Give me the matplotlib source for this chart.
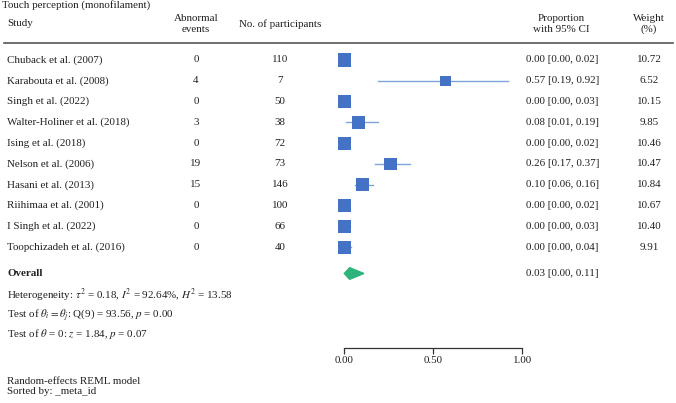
import matplotlib
matplotlib.use("Agg")
import matplotlib.pyplot as plt
from matplotlib.transforms import blended_transform_factory
from matplotlib.patches import Polygon

plt.rcParams['font.family'] = ['Liberation Serif', 'DejaVu Serif']
plt.rcParams['mathtext.fontset'] = 'stix'

studies = ["Chuback et al. (2007)", "Karabouta et al. (2008)", "Singh et al. (2022)",
           "Walter-Holiner et al. (2018)", "Ising et al. (2018)", "Nelson et al. (2006)",
           "Hasani et al. (2013)", "Riihimaa et al. (2001)", "I Singh et al. (2022)",
           "Toopchizadeh et al. (2016)"]
events = [0, 4, 0, 3, 0, 19, 15, 0, 0, 0]
participants = [110, 7, 50, 38, 72, 73, 146, 100, 66, 40]
prop = [0.00, 0.57, 0.00, 0.08, 0.00, 0.26, 0.10, 0.00, 0.00, 0.00]
ci_lo = [0.00, 0.19, 0.00, 0.01, 0.00, 0.17, 0.06, 0.00, 0.00, 0.00]
ci_hi = [0.02, 0.92, 0.03, 0.19, 0.02, 0.37, 0.16, 0.02, 0.03, 0.04]
weights = [10.72, 6.52, 10.15, 9.85, 10.46, 10.47, 10.84, 10.67, 10.40, 9.91]
overall = 0.03
overall_lo = 0.00
overall_hi = 0.11
x_ticks = [0.0, 0.5, 1.0]

W, H = 676, 403
fig = plt.figure(figsize=(W / 100, H / 100), dpi=100)

# row 0 sits at 60 px from top, rows 20.8 px apart
row0, step = 60.0, 20.8
def px2row(py):
    return (py - row0) / step

axis_px = 347.7
ax = fig.add_axes([344.3 / W, (H - axis_px) / H, 178.0 / W, axis_px / H])
ax.set_xlim(0, 1)
ax.set_ylim(px2row(axis_px), px2row(0))
for s in ['top', 'left', 'right']:
    ax.spines[s].set_visible(False)
ax.spines['bottom'].set_color('#333333')
ax.spines['bottom'].set_linewidth(0.9)
ax.set_yticks([])
ax.set_xticks(x_ticks)
ax.set_xticklabels(["%.2f" % t for t in x_ticks])

txt = '#231F20'
fs = 7.9
ax.tick_params(axis='x', length=4, width=0.9, color='#333333', labelsize=fs,
               labelcolor=txt, pad=2)
tr = blended_transform_factory(fig.transFigure, ax.transData)

def fx(px):
    return px / W

rows = list(range(len(studies)))
# CIs and squares
for i in rows:
    ax.plot([ci_lo[i], ci_hi[i]], [i, i], color='#7FA6DC', lw=1.0, clip_on=False, zorder=2)
ax.scatter(prop, rows, marker='s', s=[10 + 7.3 * w for w in weights], color='#4472C4',
           edgecolor='none', clip_on=False, zorder=3)

# overall diamond
orow = px2row(273.5)
h = 0.28
ax.add_patch(Polygon([(overall_lo, orow), (overall, orow - h), (overall_hi, orow), (overall, orow + h)],
                     closed=True, color='#2DB37C', clip_on=False, zorder=3))

# header
ax.text(fx(2), px2row(5), "Touch perception (monofilament)", transform=tr, fontsize=fs,
        color=txt, va='center', ha='left')
ax.text(fx(7), px2row(24), "Study", transform=tr, fontsize=fs, color=txt, va='center')
ax.text(fx(196), px2row(24), "Abnormal\nevents", transform=tr, fontsize=fs, color=txt,
        va='center', ha='center', linespacing=1.3)
ax.text(fx(280), px2row(24), "No. of participants", transform=tr, fontsize=fs, color=txt,
        va='center', ha='center')
ax.text(fx(561), px2row(24), "Proportion\nwith 95% CI", transform=tr, fontsize=fs, color=txt,
        va='center', ha='center', linespacing=1.3)
ax.text(fx(649), px2row(24), "Weight\n(%)", transform=tr, fontsize=fs, color=txt,
        va='center', ha='center', linespacing=1.3)
ax.plot([fx(4), fx(673)], [px2row(43), px2row(43)], transform=tr, color='#555555',
        lw=1.2, clip_on=False)

for i in rows:
    ax.text(fx(7), i, studies[i], transform=tr, fontsize=fs, color=txt, va='center')
    ax.text(fx(196), i, str(events[i]), transform=tr, fontsize=fs, color=txt,
            va='center', ha='center')
    ax.text(fx(280), i, str(participants[i]), transform=tr, fontsize=fs, color=txt,
            va='center', ha='center')
    ax.text(fx(526), i, "%.2f [%.2f, %.2f]" % (prop[i], ci_lo[i], ci_hi[i]), transform=tr,
            fontsize=fs, color=txt, va='center', ha='left')
    ax.text(fx(649), i, "%.2f" % weights[i], transform=tr, fontsize=fs, color=txt,
            va='center', ha='center')

ax.text(fx(7), orow, "Overall", transform=tr, fontsize=fs, color=txt, va='center',
        fontweight='bold')
ax.text(fx(526), orow, "%.2f [%.2f, %.2f]" % (overall, overall_lo, overall_hi), transform=tr,
        fontsize=fs, color=txt, va='center', ha='left')

ax.text(fx(7), px2row(295), r"Heterogeneity: $\tau^2$ = 0.18, $I^2$ = 92.64%, $H^2$ = 13.58",
        transform=tr, fontsize=fs, color=txt, va='center')
ax.text(fx(7), px2row(315), r"Test of $\theta_i = \theta_j$: Q(9) = 93.56, $p$ = 0.00",
        transform=tr, fontsize=fs, color=txt, va='center')
ax.text(fx(7), px2row(334), r"Test of $\theta$ = 0: $z$ = 1.84, $p$ = 0.07",
        transform=tr, fontsize=fs, color=txt, va='center')

ax.text(fx(7), px2row(382), "Random-effects REML model", transform=tr, fontsize=fs,
        color=txt, va='center')
ax.text(fx(7), px2row(392), "Sorted by: _meta_id", transform=tr, fontsize=fs,
        color=txt, va='center')

fig.savefig("out.png", dpi=100)
